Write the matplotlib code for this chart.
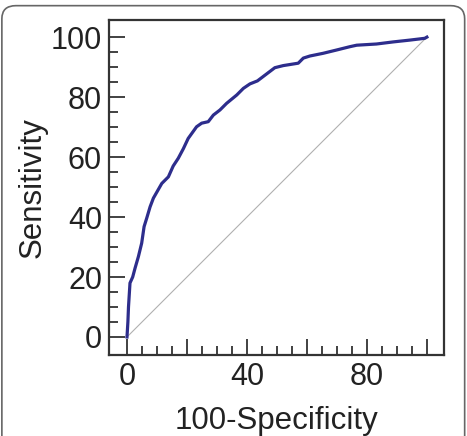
import numpy as np
import matplotlib
matplotlib.use('Agg')
import matplotlib.pyplot as plt
from matplotlib.patches import FancyBboxPatch

plt.rcParams['font.family'] = ['Liberation Sans', 'DejaVu Sans']

# ROC curve points (100-Specificity, Sensitivity)
fpr = [0, 0.3, 0.5, 1.0, 1.9, 2.7, 3.8, 4.9, 5.7, 6.6, 7.7, 8.8, 11.6, 13.8, 15.4,
       17.1, 18.8, 20.4, 23.2, 24.9, 27.1, 28.8, 31.0, 33.2, 36.6, 38.8, 41.0,
       43.5, 46.0, 49.3, 52.1, 57.1, 58.8, 61.0, 65.4, 69.9, 74.3, 76.6, 83.2,
       88.8, 94.3, 99.3, 100]
tpr = [0, 5.0, 10.0, 18.0, 20.0, 23.0, 26.8, 31.3, 36.8, 39.7, 43.4, 46.3, 51.2,
       53.4, 57.0, 59.6, 62.8, 66.2, 70.1, 71.3, 71.8, 74.0, 75.7, 77.9, 80.7,
       82.9, 84.4, 85.4, 87.3, 89.8, 90.5, 91.3, 93.0, 93.7, 94.6, 95.7, 96.8,
       97.3, 97.7, 98.4, 99.0, 99.6, 100]

ref_line = [0, 100]

x_major = [0, 20, 40, 60, 80, 100]
x_labels = ['0', '', '40', '', '80', '']
y_major = [0, 20, 40, 60, 80, 100]
y_labels = ['0', '20', '40', '60', '80', '100']
minor = np.arange(0, 101, 5)

fig = plt.figure(figsize=(4.67, 4.36), dpi=100)
ax = fig.add_axes([0.2334, 0.1858, 0.7173, 0.7683])

# Reference diagonal and the curve
ax.plot(ref_line, ref_line, color='#b0b0b0', linewidth=0.8)
ax.plot(fpr, tpr, color='#2d2d8c', linewidth=2.3)

ax.set_xlim(-6, 105.7)
ax.set_ylim(-6, 105.7)

ax.set_xticks(x_major)
ax.set_xticklabels(x_labels)
ax.set_yticks(y_major)
ax.set_yticklabels(y_labels)
ax.set_xticks(minor, minor=True)
ax.set_yticks(minor, minor=True)

ax.tick_params(which='both', direction='in', width=1.3, color='#333333',
               labelsize=22, labelcolor='#222222', pad=5)
ax.tick_params(which='major', length=11.5)
ax.tick_params(which='minor', length=6.5)
for side in ax.spines.values():
    side.set_linewidth(1.6)
    side.set_color('#333333')

ax.set_xlabel('100-Specificity', fontsize=22.5, color='#222222', labelpad=10)
ax.set_ylabel('Sensitivity', fontsize=22.5, color='#222222', labelpad=2)

# Rounded frame around the whole figure
frame = FancyBboxPatch((0.004, -0.05), 0.991, 1.037, boxstyle='round,pad=0,rounding_size=0.03',
                       transform=fig.transFigure, facecolor='none', edgecolor='#666666',
                       linewidth=1.2, clip_on=False)
fig.patches.append(frame)

fig.savefig('out.png', dpi=100)
